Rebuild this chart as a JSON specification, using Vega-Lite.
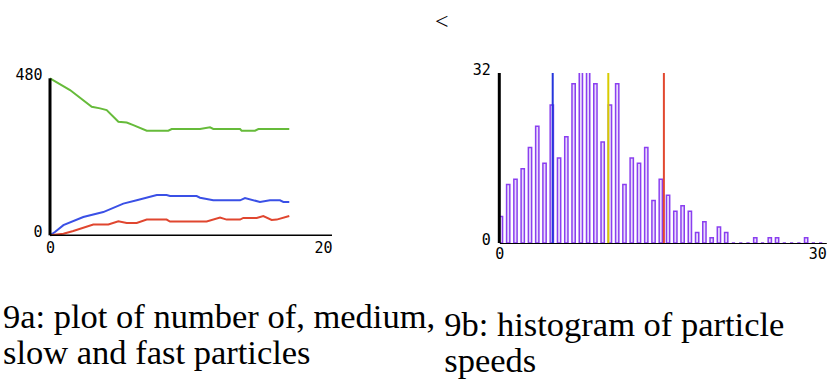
{
  "$schema": "https://vega.github.io/schema/vega-lite/v6.json",
  "background": "white",
  "padding": {"left": 3, "top": 10, "right": 0, "bottom": 0},
  "bounds": "flush",
  "spacing": 167.3,
  "resolve": {"scale": {"color": "independent"}},
  "title": {"text": "<", "orient": "top", "anchor": "middle", "frame": "bounds", "dx": 27, "offset": 28, "font": "Liberation Serif, Times New Roman, serif", "fontSize": 24, "fontWeight": "normal", "color": "black"},
  "config": {
    "view": {"stroke": null},
    "axis": {"grid": false, "ticks": false, "tickSize": 0, "domain": false, "labelFont": "DejaVu Sans Mono", "labelFontSize": 15, "labelColor": "black", "title": null}
  },
  "datasets": {
    "counts": [
      {"time": 0, "number": 480, "group": "medium"},
      {"time": 1.42, "number": 444, "group": "medium"},
      {"time": 2.96, "number": 393, "group": "medium"},
      {"time": 3.55, "number": 388, "group": "medium"},
      {"time": 4.02, "number": 383, "group": "medium"},
      {"time": 4.85, "number": 347, "group": "medium"},
      {"time": 5.44, "number": 345, "group": "medium"},
      {"time": 5.91, "number": 337, "group": "medium"},
      {"time": 6.86, "number": 320, "group": "medium"},
      {"time": 8.39, "number": 320, "group": "medium"},
      {"time": 8.63, "number": 325, "group": "medium"},
      {"time": 10.64, "number": 325, "group": "medium"},
      {"time": 11.35, "number": 330, "group": "medium"},
      {"time": 11.58, "number": 325, "group": "medium"},
      {"time": 13.48, "number": 325, "group": "medium"},
      {"time": 13.59, "number": 320, "group": "medium"},
      {"time": 14.54, "number": 320, "group": "medium"},
      {"time": 14.78, "number": 325, "group": "medium"},
      {"time": 16.97, "number": 325, "group": "medium"},
      {"time": 0, "number": 0, "group": "slow"},
      {"time": 0.35, "number": 10, "group": "slow"},
      {"time": 0.95, "number": 31, "group": "slow"},
      {"time": 2.36, "number": 56, "group": "slow"},
      {"time": 3.78, "number": 71, "group": "slow"},
      {"time": 5.2, "number": 97, "group": "slow"},
      {"time": 6.15, "number": 107, "group": "slow"},
      {"time": 7.57, "number": 123, "group": "slow"},
      {"time": 8.27, "number": 123, "group": "slow"},
      {"time": 8.51, "number": 120, "group": "slow"},
      {"time": 10.4, "number": 120, "group": "slow"},
      {"time": 10.64, "number": 115, "group": "slow"},
      {"time": 11.58, "number": 107, "group": "slow"},
      {"time": 13.48, "number": 107, "group": "slow"},
      {"time": 13.83, "number": 114, "group": "slow"},
      {"time": 14.89, "number": 102, "group": "slow"},
      {"time": 15.6, "number": 107, "group": "slow"},
      {"time": 16.31, "number": 107, "group": "slow"},
      {"time": 16.55, "number": 102, "group": "slow"},
      {"time": 16.97, "number": 102, "group": "slow"},
      {"time": 0, "number": 0, "group": "fast"},
      {"time": 0.95, "number": 5, "group": "fast"},
      {"time": 1.65, "number": 13, "group": "fast"},
      {"time": 3.07, "number": 33, "group": "fast"},
      {"time": 4.14, "number": 33, "group": "fast"},
      {"time": 4.85, "number": 43, "group": "fast"},
      {"time": 5.44, "number": 38, "group": "fast"},
      {"time": 6.15, "number": 38, "group": "fast"},
      {"time": 6.86, "number": 48, "group": "fast"},
      {"time": 8.27, "number": 48, "group": "fast"},
      {"time": 8.51, "number": 42, "group": "fast"},
      {"time": 11.11, "number": 42, "group": "fast"},
      {"time": 12.06, "number": 54, "group": "fast"},
      {"time": 12.53, "number": 48, "group": "fast"},
      {"time": 13.48, "number": 48, "group": "fast"},
      {"time": 13.71, "number": 53, "group": "fast"},
      {"time": 14.66, "number": 53, "group": "fast"},
      {"time": 15.13, "number": 59, "group": "fast"},
      {"time": 15.72, "number": 47, "group": "fast"},
      {"time": 16.08, "number": 48, "group": "fast"},
      {"time": 16.97, "number": 59, "group": "fast"}
    ],
    "hist": [
      {"speed_lo": 0, "speed_hi": 0.667, "count": 5},
      {"speed_lo": 0.667, "speed_hi": 1.333, "count": 11},
      {"speed_lo": 1.333, "speed_hi": 2, "count": 12},
      {"speed_lo": 2, "speed_hi": 2.667, "count": 14},
      {"speed_lo": 2.667, "speed_hi": 3.333, "count": 18},
      {"speed_lo": 3.333, "speed_hi": 4, "count": 22},
      {"speed_lo": 4, "speed_hi": 4.667, "count": 15},
      {"speed_lo": 4.667, "speed_hi": 5.333, "count": 26},
      {"speed_lo": 5.333, "speed_hi": 6, "count": 16},
      {"speed_lo": 6, "speed_hi": 6.667, "count": 20},
      {"speed_lo": 6.667, "speed_hi": 7.333, "count": 30},
      {"speed_lo": 7.333, "speed_hi": 8, "count": 34},
      {"speed_lo": 8, "speed_hi": 8.667, "count": 34},
      {"speed_lo": 8.667, "speed_hi": 9.333, "count": 30},
      {"speed_lo": 9.333, "speed_hi": 10, "count": 19},
      {"speed_lo": 10, "speed_hi": 10.667, "count": 26},
      {"speed_lo": 10.667, "speed_hi": 11.333, "count": 30},
      {"speed_lo": 11.333, "speed_hi": 12, "count": 11},
      {"speed_lo": 12, "speed_hi": 12.667, "count": 16},
      {"speed_lo": 12.667, "speed_hi": 13.333, "count": 15},
      {"speed_lo": 13.333, "speed_hi": 14, "count": 18},
      {"speed_lo": 14, "speed_hi": 14.667, "count": 8},
      {"speed_lo": 14.667, "speed_hi": 15.333, "count": 12},
      {"speed_lo": 15.333, "speed_hi": 16, "count": 9},
      {"speed_lo": 16, "speed_hi": 16.667, "count": 6},
      {"speed_lo": 16.667, "speed_hi": 17.333, "count": 7},
      {"speed_lo": 17.333, "speed_hi": 18, "count": 6},
      {"speed_lo": 18, "speed_hi": 18.667, "count": 2},
      {"speed_lo": 18.667, "speed_hi": 19.333, "count": 4},
      {"speed_lo": 19.333, "speed_hi": 20, "count": 1},
      {"speed_lo": 20, "speed_hi": 20.667, "count": 3},
      {"speed_lo": 20.667, "speed_hi": 21.333, "count": 2},
      {"speed_lo": 21.333, "speed_hi": 22, "count": 0},
      {"speed_lo": 22, "speed_hi": 22.667, "count": 0},
      {"speed_lo": 22.667, "speed_hi": 23.333, "count": 0},
      {"speed_lo": 23.333, "speed_hi": 24, "count": 1},
      {"speed_lo": 24, "speed_hi": 24.667, "count": 0},
      {"speed_lo": 24.667, "speed_hi": 25.333, "count": 1},
      {"speed_lo": 25.333, "speed_hi": 26, "count": 1},
      {"speed_lo": 26, "speed_hi": 26.667, "count": 0},
      {"speed_lo": 26.667, "speed_hi": 27.333, "count": 0},
      {"speed_lo": 27.333, "speed_hi": 28, "count": 0},
      {"speed_lo": 28, "speed_hi": 28.667, "count": 1},
      {"speed_lo": 28.667, "speed_hi": 29.333, "count": 0},
      {"speed_lo": 29.333, "speed_hi": 30, "count": 0}
    ],
    "markers": [
      {"speed": 4.9, "kind": "slow"},
      {"speed": 10.0, "kind": "average"},
      {"speed": 15.1, "kind": "fast"}
    ]
  },
  "hconcat": [
    {
      "width": 282,
      "height": 170,
      "title": {"text": ["9a: plot of number of, medium,", "slow and fast particles"], "orient": "bottom", "anchor": "start", "frame": "group", "dx": -47, "offset": 46, "font": "Liberation Serif, Times New Roman, serif", "fontSize": 34.5, "fontWeight": "normal", "lineHeight": 36, "color": "black"},
      "layer": [
        {
          "data": {"name": "counts"},
          "mark": {"type": "line", "strokeWidth": 2},
          "encoding": {
            "x": {"field": "time", "type": "quantitative", "scale": {"domain": [0, 20], "nice": false, "zero": false},
                  "axis": {"values": [0, 20], "labelFlush": false, "labelAlign": {"expr": "datum.value == 20 ? 'right' : 'center'"}, "labelBaseline": "middle", "labelPadding": 4}},
            "y": {"field": "number", "type": "quantitative", "scale": {"domain": [-23.5, 496.2], "nice": false, "zero": false},
                  "axis": {"values": [0, 480], "labelPadding": 8, "labelOffset": -4}},
            "color": {"field": "group", "type": "nominal", "scale": {"domain": ["medium", "slow", "fast"], "range": ["#66bb3a", "#3a50e6", "#e0462f"]}, "legend": null}
          }
        },
        {
          "data": {"values": [{}]},
          "mark": {"type": "rule", "color": "black", "strokeWidth": 3},
          "encoding": {"x": {"datum": 0}, "y": {"datum": 0}, "y2": {"datum": 480}}
        },
        {
          "data": {"values": [{}]},
          "mark": {"type": "rule", "color": "black", "strokeWidth": 1.5},
          "encoding": {"y": {"datum": 0}, "x": {"datum": 0}, "x2": {"datum": 20}}
        }
      ]
    },
    {
      "width": 327,
      "height": 170,
      "title": {"text": ["9b: histogram of particle", "speeds"], "orient": "bottom", "anchor": "start", "frame": "group", "dx": -55, "offset": 48, "font": "Liberation Serif, Times New Roman, serif", "fontSize": 34.5, "fontWeight": "normal", "lineHeight": 36, "color": "black"},
      "layer": [
        {
          "data": {"name": "hist"},
          "mark": {"type": "bar", "fill": "#e9dcfb", "stroke": "#8a3ff0", "strokeWidth": 1.5, "xOffset": 0, "x2Offset": -4, "clip": true},
          "encoding": {
            "x": {"field": "speed_lo", "type": "quantitative", "scale": {"domain": [0, 30], "nice": false, "zero": false},
                  "axis": {"values": [0, 30], "domain": true, "domainColor": "black", "domainWidth": 1, "labelFlush": false, "labelAlign": {"expr": "datum.value == 30 ? 'right' : 'center'"}, "labelBaseline": "middle", "labelPadding": 10}},
            "x2": {"field": "speed_hi"},
            "y": {"field": "count", "type": "quantitative", "scale": {"domain": [0, 32], "nice": false},
                  "axis": {"values": [0, 32], "labelPadding": 9, "labelOffset": -4}},
            "y2": {"datum": 0}
          }
        },
        {
          "data": {"name": "markers"},
          "mark": {"type": "rule", "strokeWidth": 2},
          "encoding": {
            "x": {"field": "speed", "type": "quantitative"},
            "y": {"datum": 0},
            "y2": {"datum": 32},
            "color": {"field": "kind", "type": "nominal", "scale": {"domain": ["slow", "average", "fast"], "range": ["#2536dc", "#d8cc00", "#e2482f"]}, "legend": null}
          }
        },
        {
          "data": {"values": [{}]},
          "mark": {"type": "rule", "color": "black", "strokeWidth": 3},
          "encoding": {"x": {"datum": 0}, "y": {"datum": 0}, "y2": {"datum": 32}}
        }
      ]
    }
  ]
}
